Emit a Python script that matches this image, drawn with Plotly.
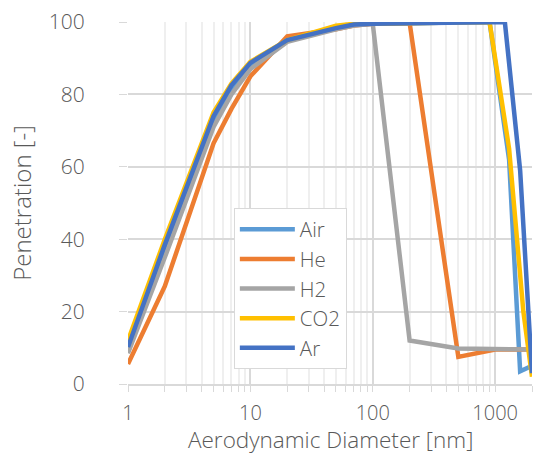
import plotly.graph_objects as go

# Data
series_names = ["Air", "He", "H2", "CO2", "Ar"]
colors = ["#5B9BD5", "#ED7D31", "#A5A5A5", "#FFC000", "#4472C4"]

air_x = [1, 2, 5, 7, 10, 20, 50, 70, 100, 200, 500, 900, 1300, 1600, 2000]
air_y = [10, 38, 73, 81.5, 88, 95, 98.3, 99.3, 99.5, 99.7, 99.8, 100, 62, 3.5, 5]

he_x = [1, 2, 5, 7, 10, 20, 50, 70, 100, 200, 500, 1000, 2000]
he_y = [5.5, 27, 66.5, 76, 85, 96, 98, 99, 99.5, 99.8, 7.5, 9.5, 9.5]

h2_x = [1, 2, 5, 7, 10, 20, 50, 70, 100, 200, 500, 1000, 2000]
h2_y = [8.5, 35, 71, 80, 87, 94.5, 98, 99, 99.5, 12, 9.8, 9.5, 9.5]

co2_x = [1, 2, 5, 7, 10, 20, 50, 70, 100, 200, 500, 900, 1300, 1700, 2000]
co2_y = [12, 40, 75, 83, 89, 95, 99, 99.5, 99.5, 99.7, 99.8, 100, 65, 20, 2]

ar_x = [1, 2, 5, 7, 10, 20, 50, 70, 100, 200, 500, 1000, 1200, 1600, 2000]
ar_y = [10.2, 38.5, 74, 82.5, 88.7, 95, 98.3, 99.3, 99.5, 99.7, 99.8, 100, 100, 59, 3]

xs = [air_x, he_x, h2_x, co2_x, ar_x]
ys = [air_y, he_y, h2_y, co2_y, ar_y]

x_tickvals = [1, 10, 100, 1000]
x_ticktext = ["1", "10", "100", "1000"]
y_tickvals = [0, 20, 40, 60, 80, 100]
x_title = "Aerodynamic Diameter [nm]"
y_title = "Penetration [-]"

FONT = "Open Sans"
TXT = "#595959"

fig = go.Figure()
for name, c, x, y in zip(series_names, colors, xs, ys):
    fig.add_trace(go.Scatter(x=x, y=y, mode="lines", name=name,
                             line=dict(color=c, width=4.5)))

fig.update_layout(
    width=533, height=458,
    margin=dict(l=128, r=1, t=22, b=74),
    paper_bgcolor="white", plot_bgcolor="white",
    font=dict(family=FONT, color=TXT, size=21, weight=300),
    legend=dict(x=0.262, y=0.485, xanchor="left", yanchor="top",
                bgcolor="white", bordercolor="#d9d9d9", borderwidth=1,
                font=dict(size=20.5, color=TXT, family=FONT, weight=300),
                itemwidth=55, tracegroupgap=0),
    showlegend=True,
)
fig.update_xaxes(
    type="log", range=[0, 3.30103], automargin=False,
    tickvals=x_tickvals, ticktext=x_ticktext,
    tickfont=dict(size=20),
    showgrid=True, gridcolor="#d9d9d9", gridwidth=1.5,
    ticks="outside", ticklen=6, tickcolor="#d9d9d9",
    showline=True, linecolor="#d9d9d9", linewidth=1.5,
    minor=dict(dtick="D1", showgrid=True, gridcolor="#efefef", gridwidth=1.5,
               ticks="outside", ticklen=6, tickcolor="#d9d9d9"),
    ticklabelstandoff=4,
    zeroline=False,
)
fig.update_yaxes(
    range=[0, 100], tickvals=y_tickvals, automargin=False,
    tickfont=dict(size=21),
    showgrid=True, gridcolor="#d9d9d9", gridwidth=1.5,
    ticks="outside", ticklen=8, tickcolor="#d9d9d9",
    ticklabelstandoff=30,
    title=dict(text=y_title, standoff=10,
               font=dict(size=24, family=FONT, color=TXT, weight=300)),
    zeroline=False,
)
fig.add_annotation(
    text=x_title, xref="paper", yref="paper", x=0.5, y=0,
    xanchor="center", yanchor="bottom", yshift=-73, showarrow=False,
    font=dict(size=22.5, family=FONT, color=TXT, weight=300),
)

fig.write_html(
    "out.html",
    config={"displayModeBar": False},
    post_script="document.body.style.margin='0';document.body.style.overflow='hidden';",
)
